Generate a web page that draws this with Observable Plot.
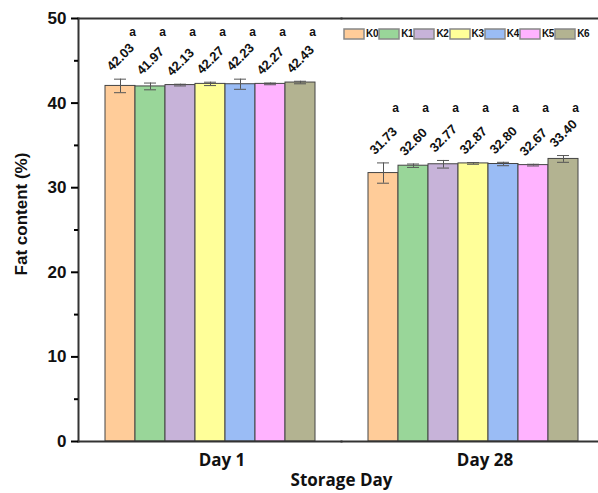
<!DOCTYPE html>
<html>
<head>
<meta charset="utf-8">
<script src="https://cdn.jsdelivr.net/npm/d3@7"></script>
<script src="https://cdn.jsdelivr.net/npm/@observablehq/plot@0.6"></script>
<style>
  html, body { margin: 0; padding: 0; background: #fff; }
  #wrap { position: relative; width: 598px; height: 493px; overflow: hidden; }
  #legend { position: absolute; left: 344px; top: 28px; width: 260px; font-weight: bold; }
  #legend > div { flex-wrap: nowrap !important; white-space: nowrap; margin: 0 !important; min-height: 0 !important; font-weight: bold !important; }
  #legend span { margin-right: 1px !important; letter-spacing: -0.3px; font-weight: bold !important; }
  #legend svg { margin-right: 2px !important; }
  #legend svg rect { stroke: #888; stroke-width: 1.5px; }
</style>
</head>
<body>
<div id="wrap"><div id="chart"></div><div id="legend"></div></div>
<script>
const days = ["Day 1", "Day 28"];
const groups = ["K0", "K1", "K2", "K3", "K4", "K5", "K6"];
const colors = ["#FFCC99", "#99D699", "#C7B3D9", "#FFFF99", "#9ABCF5", "#FFB3FF", "#B3B391"];
const day1Means = [42.03, 41.97, 42.13, 42.27, 42.23, 42.27, 42.43];
const day1Sd = [0.8, 0.4, 0.1, 0.2, 0.6, 0.1, 0.15];
const day28Means = [31.73, 32.60, 32.77, 32.87, 32.80, 32.67, 33.40];
const day28Sd = [1.2, 0.2, 0.45, 0.1, 0.2, 0.1, 0.4];
const day1Letters = ["a", "a", "a", "a", "a", "a", "a"];
const day28Letters = ["a", "a", "a", "a", "a", "a", "a"];
const yTicks = [0, 10, 20, 30, 40, 50];
const yMinorTicks = [5, 15, 25, 35, 45];
const yTitle = "Fat content (%)";
const xTitle = "Storage Day";

const seriesByDay = [
  {day: days[0], means: day1Means, sds: day1Sd, letters: day1Letters},
  {day: days[1], means: day28Means, sds: day28Sd, letters: day28Letters}
];
const rows = [];
for (const s of seriesByDay) {
  const groupTop = d3.max(s.means.map((m, i) => m + s.sds[i]));
  groups.forEach((k, i) => rows.push({
    day: s.day, k, mean: s.means[i], sd: s.sds[i],
    lo: s.means[i] - s.sds[i], hi: s.means[i] + s.sds[i],
    letter: s.letters[i], groupTop
  }));
}

const font = "'Liberation Sans', Arial, sans-serif";
const chart = Plot.plot({
  width: 598,
  height: 493,
  marginLeft: 77,
  marginRight: -6,
  marginTop: 18,
  marginBottom: 52,
  style: {fontFamily: font, background: "#fff"},
  fx: {domain: days, padding: 0},
  x: {domain: groups, paddingInner: 0, paddingOuter: 0.85, axis: null},
  y: {domain: [0, 50], axis: null},
  color: {domain: groups, range: colors},
  marks: [
    Plot.barY(rows, {fx: "day", x: "k", y: "mean", fill: "k", stroke: "#444", strokeWidth: 1}),
    Plot.ruleX(rows, {fx: "day", x: "k", y1: "lo", y2: "hi", stroke: "#555", strokeWidth: 1}),
    Plot.tickY(rows, {fx: "day", x: "k", y: "lo", stroke: "#555", strokeWidth: 1, insetLeft: 9, insetRight: 9}),
    Plot.tickY(rows, {fx: "day", x: "k", y: "hi", stroke: "#555", strokeWidth: 1, insetLeft: 9, insetRight: 9}),
    Plot.text(rows, {fx: "day", x: "k", y: "hi", text: d => d.mean.toFixed(2), rotate: -45, dy: -22,
      fontSize: 13, fontWeight: "bold", fill: "#111"}),
    Plot.text(rows, {fx: "day", x: "k", y: "groupTop", text: "letter", dy: -47, dx: 12,
      fontSize: 12, fontWeight: "bold", fill: "#111"}),
    Plot.frame({anchor: "top", stroke: "#333", strokeWidth: 2}),
    Plot.frame({anchor: "bottom", stroke: "#333", strokeWidth: 2}),
    Plot.frame({anchor: "left", facetAnchor: "left", stroke: "#333", strokeWidth: 2}),
    Plot.axisY({ticks: yTicks, tickSize: 7, tickPadding: 5, strokeWidth: 2, fontSize: 17, fontWeight: "bold",
      fill: "#111", label: null}),
    Plot.axisY({ticks: yMinorTicks, tickSize: 4, strokeWidth: 2, text: null, label: null}),
    Plot.text([yTitle], {frameAnchor: "left", facetAnchor: "left", rotate: -90, dx: -57, dy: -16,
      textAnchor: "middle", text: d => d, fontSize: 17, fontWeight: "bold", fill: "#111"}),
    Plot.axisFx({anchor: "bottom", tickSize: 0, tickPadding: 12, dx: 12, fontSize: 17, fontWeight: "bold",
      fill: "#111", fontFamily: "'Open Sans', sans-serif",
      label: xTitle, labelAnchor: "center", labelOffset: 44})
  ]
});
document.getElementById("chart").appendChild(chart);

const legend = Plot.legend({
  color: {domain: groups, range: colors},
  swatchWidth: 20, swatchHeight: 10, swatchSize: 10,
  style: {fontFamily: font, fontSize: "10px", fontWeight: "bold", color: "#111", marginLeft: 0}
});
document.getElementById("legend").appendChild(legend);
</script>
</body>
</html>
